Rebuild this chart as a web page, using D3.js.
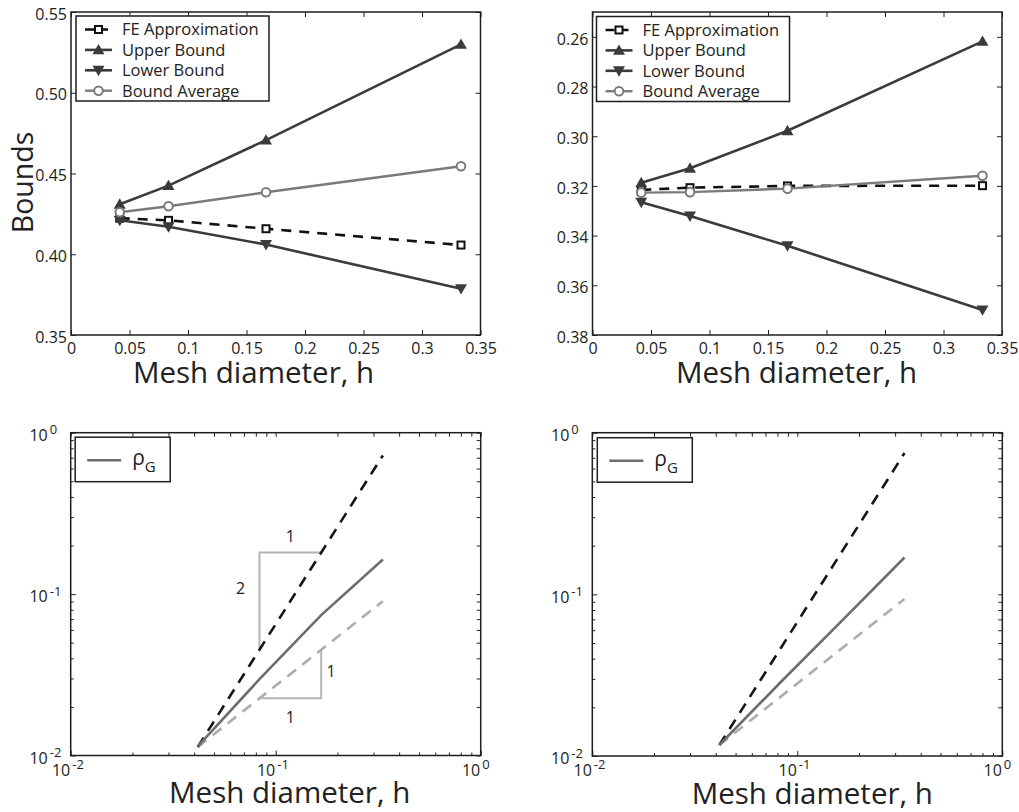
<!DOCTYPE html>
<html>
<head>
<meta charset="utf-8">
<script src="https://cdn.jsdelivr.net/npm/d3@7"></script>
<style>
	body { margin: 0; background: #fff; }
	svg text { font-family: "Open Sans", sans-serif; fill: #222; }
</style>
</head>
<body>
<svg id="fig" width="1019" height="812"></svg>
<script>
// mesh sizes, shared by all four panels
const meshH = [1 / 24, 1 / 12, 1 / 6, 1 / 3];

// top left panel
const feA = [0.4223, 0.421, 0.4158, 0.4057];
const upperA = [0.431, 0.4425, 0.4707, 0.53];
const lowerA = [0.421, 0.417, 0.406, 0.3787];
const averageA = [0.426, 0.4297, 0.4384, 0.4545];

// top right panel (y axis runs downwards)
const feB = [0.3216, 0.3207, 0.32, 0.3199];
const upperB = [0.3187, 0.3129, 0.2978, 0.2618];
const lowerB = [0.3266, 0.3321, 0.3441, 0.3699];
const averageB = [0.3227, 0.3225, 0.3211, 0.3159];

// bottom panels, log-log
const rhoGA = [0.0114, 0.0297, 0.0741, 0.164];
const rhoGB = [0.0117, 0.0288, 0.0695, 0.169];
const refH = [1 / 24, 1 / 3];
const slope2A = [0.0113, 0.723];
const slope1A = [0.0113, 0.0904];
const slope2B = [0.0117, 0.749];
const slope1B = [0.0117, 0.0936];

// slope triangles in the bottom left panel
const triSlope2 = [[1 / 12, 0.0452], [1 / 12, 0.181], [1 / 6, 0.181]];
const triSlope1 = [[1 / 12, 0.0226], [1 / 6, 0.0226], [1 / 6, 0.0452]];

// tick labels
const xTicksLin = [0, 0.05, 0.1, 0.15, 0.2, 0.25, 0.3, 0.35];
const yTicksA = [0.35, 0.4, 0.45, 0.5, 0.55];
const yTicksB = [0.26, 0.28, 0.3, 0.32, 0.34, 0.36, 0.38];
const logMajor = [0.01, 0.1, 1];
const logMinor = [2, 3, 4, 5, 6, 7, 8, 9].flatMap((k) => [k * 0.01, k * 0.1]);

const legendNames = ["FE Approximation", "Upper Bound", "Lower Bound", "Bound Average"];

const svg = d3.select("#fig");
const dark = "#3b3b3b";
const mid = "#7a7a7a";

function tidy(g) {
	g.select(".domain").remove();
	g.selectAll(".tick line").attr("stroke", "#222");
	g.selectAll(".tick text").attr("font-size", 16).attr("fill", "#222");
}

function frame(g, w, h) {
	g.append("rect")
		.attr("width", w)
		.attr("height", h)
		.attr("fill", "none")
		.attr("stroke", "#1e1e1e")
		.attr("stroke-width", 1.5);
}

function xLabel(g, x, y) {
	g.append("text")
		.attr("x", x)
		.attr("y", y)
		.attr("text-anchor", "middle")
		.attr("font-size", 29.5)
		.text("Mesh diameter, h");
}

function marker(g, kind, px, py) {
	if (kind === "square") {
		g.append("rect")
			.attr("x", px - 3.5).attr("y", py - 3.5)
			.attr("width", 7).attr("height", 7)
			.attr("fill", "#fff").attr("stroke", "#111").attr("stroke-width", 2);
	} else if (kind === "circle") {
		g.append("circle")
			.attr("cx", px).attr("cy", py).attr("r", 4.3)
			.attr("fill", "#fff").attr("stroke", mid).attr("stroke-width", 2);
	} else {
		const rot = kind === "down" ? 180 : 0;
		g.append("path")
			.attr("d", d3.symbol().type(d3.symbolTriangle).size(62)())
			.attr("transform", `translate(${px},${py + (kind === "down" ? -1 : 1)}) rotate(${rot})`)
			.attr("fill", dark);
	}
}

function linearPanel(opt) {
	const g = svg.append("g").attr("transform", `translate(${opt.left},${opt.top})`);
	const w = opt.width, h = opt.height;
	const x = d3.scaleLinear().domain([0, 0.35]).range([0, w]);
	const y = d3.scaleLinear().domain(opt.yDomain).range([h, 0]);

	g.append("g").attr("transform", `translate(0,${h})`)
		.call(d3.axisBottom(x).tickValues(xTicksLin).tickSize(-5).tickPadding(8).tickFormat((d) => String(d)))
		.call(tidy);
	g.append("g")
		.call(d3.axisTop(x).tickValues(xTicksLin).tickSize(-5).tickFormat(""))
		.call(tidy);
	g.append("g")
		.call(d3.axisLeft(y).tickValues(opt.yTicks).tickSize(-5).tickPadding(4).tickFormat(d3.format(".2f")))
		.call(tidy)
		.call((a) => a.selectAll(".tick text").attr("dy", "0.45em"));
	g.append("g").attr("transform", `translate(${w},0)`)
		.call(d3.axisRight(y).tickValues(opt.yTicks).tickSize(-5).tickFormat(""))
		.call(tidy);

	const line = d3.line().x((d) => x(d[0])).y((d) => y(d[1]));
	const series = [
		{ vals: opt.fe, color: "#111", dash: "10,8", width: 2.6, mark: "square" },
		{ vals: opt.upper, color: dark, dash: null, width: 2.6, mark: "up" },
		{ vals: opt.lower, color: dark, dash: null, width: 2.6, mark: "down" },
		{ vals: opt.average, color: mid, dash: null, width: 2.4, mark: "circle" },
	];
	series.forEach((s) => {
		const pts = meshH.map((hh, i) => [hh, s.vals[i]]);
		g.append("path")
			.attr("d", line(pts))
			.attr("fill", "none")
			.attr("stroke", s.color)
			.attr("stroke-width", s.width)
			.attr("stroke-dasharray", s.dash);
		pts.forEach((p) => marker(g, s.mark, x(p[0]), y(p[1])));
	});

	frame(g, w, h);

	// legend
	const lg = g.append("g").attr("transform", `translate(${opt.legend[0]},${opt.legend[1]})`);
	lg.append("rect").attr("width", 193).attr("height", 85)
		.attr("fill", "#fff").attr("stroke", "#1e1e1e").attr("stroke-width", 1.5);
	series.forEach((s, i) => {
		const ry = 13.5 + i * 20.4;
		lg.append("line")
			.attr("x1", 9).attr("x2", 36).attr("y1", ry).attr("y2", ry)
			.attr("stroke", s.color).attr("stroke-width", s.width)
			.attr("stroke-dasharray", s.dash ? "9,5" : null);
		marker(lg, s.mark, 22.5, ry);
		lg.append("text").attr("x", 46).attr("y", ry).attr("dy", "0.36em")
			.attr("font-size", 16.5).text(legendNames[i]);
	});

	xLabel(g, opt.labelX, opt.labelY);
	return g;
}

function powerLabels(a, axis) {
	a.selectAll(".tick text").each(function (d) {
		const e = Math.round(Math.log10(d));
		const t = d3.select(this);
		const tick = d3.select(this.parentNode);
		const exp = e === 0 ? "0" : "-" + -e;
		if (axis === "x") {
			t.attr("text-anchor", "end").attr("x", -1).attr("dy", null).attr("y", 20).text("10");
			tick.append("text").attr("text-anchor", "start").attr("x", 1).attr("y", 13)
				.attr("font-size", 13).attr("fill", "#222").text(exp);
		} else {
			t.attr("text-anchor", "end").attr("x", -23).attr("dy", "0.48em").text("10");
			tick.append("text").attr("text-anchor", "start").attr("x", -21).attr("y", 1)
				.attr("font-size", 13).attr("fill", "#222").text(exp);
		}
	});
}

function logPanel(opt) {
	const g = svg.append("g").attr("transform", `translate(${opt.left},${opt.top})`);
	const w = opt.width, h = opt.height;
	const x = d3.scaleLog().domain([0.01, 1]).range([0, w]);
	const y = d3.scaleLog().domain([0.01, 1]).range([h, 0]);

	g.append("g").attr("transform", `translate(0,${h})`)
		.call(d3.axisBottom(x).tickValues(logMajor).tickSize(-5).tickPadding(8))
		.call(tidy)
		.call((a) => powerLabels(a, "x"));
	g.append("g").attr("transform", `translate(0,${h})`)
		.call(d3.axisBottom(x).tickValues(logMinor).tickSize(-3).tickFormat(""))
		.call(tidy);
	g.append("g")
		.call(d3.axisTop(x).tickValues(logMajor.concat(logMinor)).tickSize(-4).tickFormat(""))
		.call(tidy);
	g.append("g")
		.call(d3.axisLeft(y).tickValues(logMajor).tickSize(-5).tickPadding(4))
		.call(tidy)
		.call((a) => powerLabels(a, "y"));
	g.append("g")
		.call(d3.axisLeft(y).tickValues(logMinor).tickSize(-3).tickFormat(""))
		.call(tidy);
	g.append("g").attr("transform", `translate(${w},0)`)
		.call(d3.axisRight(y).tickValues(logMajor.concat(logMinor)).tickSize(-4).tickFormat(""))
		.call(tidy);

	const line = d3.line().x((d) => x(d[0])).y((d) => y(d[1]));

	if (opt.triangles) {
		[triSlope2, triSlope1].forEach((tri) => {
			g.append("path").attr("d", line(tri))
				.attr("fill", "none").attr("stroke", "#b4b4b4").attr("stroke-width", 2);
		});
		const notes = [
			{ px: x(1 / 12) - 19, py: y(0.181) + 36, t: "2" },
			{ px: (x(1 / 12) + x(1 / 6)) / 2, py: y(0.181) - 16, t: "1" },
			{ px: x(1 / 6) + 10, py: y(0.0452) + 21, t: "1" },
			{ px: (x(1 / 12) + x(1 / 6)) / 2, py: y(0.0226) + 19, t: "1" },
		];
		notes.forEach((n) => {
			g.append("text").attr("x", n.px).attr("y", n.py).attr("dy", "0.36em")
				.attr("text-anchor", "middle").attr("font-size", 16).attr("fill", "#333").text(n.t);
		});
	}

	g.append("path").attr("d", line(refH.map((hh, i) => [hh, opt.slope1[i]])))
		.attr("fill", "none").attr("stroke", "#adadad").attr("stroke-width", 2.6).attr("stroke-dasharray", "11,8");
	g.append("path").attr("d", line(refH.map((hh, i) => [hh, opt.slope2[i]])))
		.attr("fill", "none").attr("stroke", "#151515").attr("stroke-width", 2.6).attr("stroke-dasharray", "11,8");
	g.append("path").attr("d", line(meshH.map((hh, i) => [hh, opt.rho[i]])))
		.attr("fill", "none").attr("stroke", "#6d6d6d").attr("stroke-width", 2.6);

	frame(g, w, h);

	const lg = g.append("g").attr("transform", `translate(${opt.legend[0]},${opt.legend[1]})`);
	lg.append("rect").attr("width", 95).attr("height", 44.5)
		.attr("fill", "#fff").attr("stroke", "#1e1e1e").attr("stroke-width", 1.5);
	lg.append("line").attr("x1", 12).attr("x2", 46).attr("y1", 23).attr("y2", 23)
		.attr("stroke", "#6d6d6d").attr("stroke-width", 2.6);
	const lt = lg.append("text").attr("x", 57).attr("y", 28).attr("font-size", 21);
	lt.append("tspan").text("ρ");
	lt.append("tspan").attr("dy", 7).attr("font-size", 15).text("G");

	xLabel(g, opt.labelX, opt.labelY);
	return g;
}

linearPanel({
	left: 71, top: 12, width: 409.5, height: 323,
	yDomain: [0.35, 0.55], yTicks: yTicksA,
	fe: feA, upper: upperA, lower: lowerA, average: averageA,
	legend: [5, 4], labelX: 182.5, labelY: 371,
});

linearPanel({
	left: 592.5, top: 12, width: 409.5, height: 323,
	yDomain: [0.38, 0.25], yTicks: yTicksB,
	fe: feB, upper: upperB, lower: lowerB, average: averageB,
	legend: [4, 4.5], labelX: 204, labelY: 371,
});

// y label of the top left panel
svg.append("text")
	.attr("transform", "translate(33,182.5) rotate(-90)")
	.attr("text-anchor", "middle")
	.attr("font-size", 28.5)
	.text("Bounds");

logPanel({
	left: 70.7, top: 432.7, width: 410, height: 322.8,
	rho: rhoGA, slope2: slope2A, slope1: slope1A, triangles: true,
	legend: [4.5, 4.5], labelX: 219, labelY: 370.5,
});

logPanel({
	left: 592.3, top: 432.7, width: 410, height: 323.3,
	rho: rhoGB, slope2: slope2B, slope1: slope1B, triangles: false,
	legend: [5, 5], labelX: 220, labelY: 371,
});
</script>
</body>
</html>
